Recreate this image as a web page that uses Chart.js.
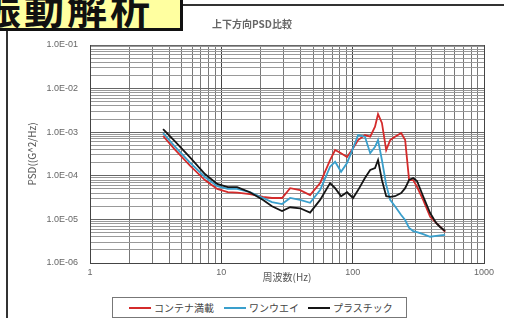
<!DOCTYPE html>
<html>
<head>
<meta charset="utf-8">
<script src="https://cdn.jsdelivr.net/npm/chart.js@4.4.1/dist/chart.umd.min.js"></script>
<style>
  html, body { margin: 0; padding: 0; background: #fff; }
  body { width: 508px; height: 318px; position: relative; overflow: hidden; font-family: "Noto Sans CJK JP", sans-serif; }
  #frame { position: absolute; left: 6px; top: 4px; width: 496px; height: 330px; border-top: 2px solid #333; border-left: 2px solid #333; }
  #banner { position: absolute; left: 0; top: 0; width: 180px; height: 28px; background: #ffffa0; border-right: 3px solid #111; border-bottom: 3px solid #111; overflow: hidden; z-index: 2; }
  #banner span { position: absolute; left: -19px; top: -13px; font-size: 40px; font-weight: 700; letter-spacing: 3px; line-height: 1; white-space: nowrap; color: #111; }
  #wrap { position: absolute; left: 8px; top: 8px; width: 494px; height: 310px; }
  #legend { position: absolute; left: 112px; top: 297px; width: 293px; height: 19px; border: 1px solid #777; background: #fff; font-size: 10px; color: #444; }
  .item { position: absolute; top: 0; height: 19px; display: flex; align-items: center; white-space: nowrap; }
  .sw { width: 22px; height: 2px; margin-right: 3px; }
</style>
</head>
<body>
<div id="frame"></div>
<div id="banner"><span>振動解析</span></div>
<div id="wrap"><canvas id="psd"></canvas></div>
<div id="legend"></div>
<script>
// frequency (Hz)
const freq = [3.6, 4.4, 5.8, 7.5, 9.3, 11.2, 13.2, 16.5, 20.8, 24.3, 29, 33.4, 39.8, 47.4, 56.5, 67.3, 73.5, 81.6, 90.6, 100.7,
  110, 124, 136, 148, 156, 167, 180, 193, 210, 234, 251, 269, 289, 309, 344, 389, 432, 463, 506]

// PSD (G^2/Hz)
const containerFull = [8.2e-4, 4.1e-4, 1.68e-4, 8.0e-5, 5.0e-5, 4.2e-5, 4.1e-5, 3.8e-5, 3.3e-5, 3.1e-5, 3.1e-5, 5.2e-5, 4.7e-5, 3.6e-5, 6.8e-5, 2.3e-4, 3.9e-4, 3.3e-4, 2.7e-4, 4.3e-4,
  6.6e-4, 8.6e-4, 7.9e-4, 1.34e-3, 2.61e-3, 1.63e-3, 3.9e-4, 6.6e-4, 7.9e-4, 9.6e-4, 6.6e-4, 8.0e-5, 8.0e-5, 5.6e-5, 2.8e-5, 1.15e-5, 8.3e-6, 6.8e-6, 5.2e-6]
const oneWay = [9.6e-4, 4.8e-4, 1.97e-4, 9.4e-5, 5.8e-5, 5.0e-5, 5.0e-5, 4.2e-5, 3.1e-5, 2.5e-5, 2.25e-5, 3.1e-5, 2.8e-5, 2.4e-5, 4.7e-5, 1.62e-4, 2.1e-4, 1.24e-4, 1.97e-4, 4.3e-4,
  8.6e-4, 7.9e-4, 3.3e-4, 4.6e-4, 6.6e-4, 2.3e-4, 6.2e-5, 2.8e-5, 2.0e-5, 1.26e-5, 9.7e-6, 6.4e-6, 5.4e-6, 5.1e-6, 4.6e-6, 4.0e-6, 4.2e-6, 4.3e-6, 4.4e-6]
const plastic = [1.18e-3, 6.3e-4, 2.6e-4, 1.1e-4, 6.5e-5, 5.5e-5, 5.5e-5, 4.2e-5, 2.8e-5, 2.0e-5, 1.56e-5, 1.9e-5, 1.8e-5, 1.43e-5, 2.8e-5, 6.8e-5, 5.2e-5, 3.4e-5, 4.2e-5, 3.1e-5,
  4.7e-5, 8.9e-5, 1.36e-4, 1.51e-4, 2.3e-4, 8.0e-5, 3.4e-5, 3.3e-5, 3.4e-5, 4.0e-5, 5.2e-5, 8.0e-5, 8.9e-5, 7.6e-5, 3.4e-5, 1.4e-5, 8.3e-6, 6.7e-6, 5.4e-6]

const seriesNames = ["コンテナ満載", "ワンウエイ", "プラスチック"]
const seriesColors = ["#d42b2b", "#3a9fcc", "#151515"]
const seriesValues = [containerFull, oneWay, plastic]

const xDecades = [1, 10, 100, 1000]
const yDecades = [1e-6, 1e-5, 1e-4, 1e-3, 1e-2, 1e-1]

const isDecade = (v) => {
  if (!v) return false
  const e = Math.log10(v)
  return Math.abs(e - Math.round(e)) < 1e-6
}

// 1..9 x 10^n grid ticks between the decades
const logTicks = (decades) => {
  const t = []
  for (let i = 0; i < decades.length - 1; i++) {
    for (let m = 1; m <= 9; m++) t.push({ value: m * decades[i] })
  }
  t.push({ value: decades[decades.length - 1] })
  return t
}

const tickFont = { family: "'Liberation Sans', Arial, sans-serif", size: 9 }
const titleFont = { family: "'Noto Sans CJK JP', sans-serif", size: 10 }

const ctx = document.getElementById("psd").getContext("2d")
new Chart(ctx, {
  type: "line",
  data: {
    datasets: seriesNames.map((name, i) => ({
      label: name,
      data: freq.map((f, j) => ({ x: f, y: seriesValues[i][j] })),
      borderColor: seriesColors[i],
      backgroundColor: seriesColors[i],
      borderWidth: 1.8,
      pointRadius: 0,
      tension: 0,
      fill: false,
      order: 3 - i,
    })),
  },
  options: {
    responsive: true,
    maintainAspectRatio: false,
    devicePixelRatio: 1,
    animation: false,
    layout: { padding: { left: 12, right: 18, top: 0, bottom: 35 } },
    plugins: {
      legend: { display: false },
      tooltip: { enabled: false },
      title: {
        display: true,
        text: "上下方向PSD比較",
        color: "#666",
        font: titleFont,
        padding: { top: 10, bottom: 15 },
      },
    },
    scales: {
      x: {
        type: "logarithmic",
        min: 1,
        max: 1000,
        afterBuildTicks: (scale) => { scale.ticks = logTicks(xDecades) },
        afterFit: (scale) => { scale.height = 20 },
        ticks: {
          autoSkip: false,
          maxRotation: 0,
          padding: 4,
          color: "#666",
          font: tickFont,
          callback: (v) => (isDecade(v) ? String(Math.round(v)) : ""),
        },
        grid: {
          drawTicks: false,
          color: (c) => (isDecade(c.tick && c.tick.value) ? "#444" : "#777"),
        },
        border: { color: "#444" },
        title: { display: true, text: "周波数(Hz)", color: "#555", font: titleFont, padding: 0 },
      },
      y: {
        type: "logarithmic",
        min: 1e-6,
        max: 1e-1,
        afterBuildTicks: (scale) => { scale.ticks = logTicks(yDecades) },
        afterFit: (scale) => { scale.width = 70 },
        ticks: {
          autoSkip: false,
          padding: 12,
          color: "#666",
          font: tickFont,
          callback: (v) => (isDecade(v) ? "1.0E-0" + -Math.round(Math.log10(v)) : ""),
        },
        grid: {
          drawTicks: false,
          color: (c) => (isDecade(c.tick && c.tick.value) ? "#666" : "#999"),
        },
        border: { color: "#444" },
        title: { display: true, text: "PSD((G^2/Hz)", color: "#555", font: titleFont, padding: { top: 6, bottom: 0 } },
      },
    },
  },
})

// legend box under the plot
const legendLeft = [16, 111, 195]
const legend = document.getElementById("legend")
seriesNames.forEach((name, i) => {
  const item = document.createElement("div")
  item.className = "item"
  item.style.left = legendLeft[i] + "px"
  item.innerHTML = '<span class="sw" style="background:' + seriesColors[i] + '"></span>' + name
  legend.appendChild(item)
})
</script>
</body>
</html>
